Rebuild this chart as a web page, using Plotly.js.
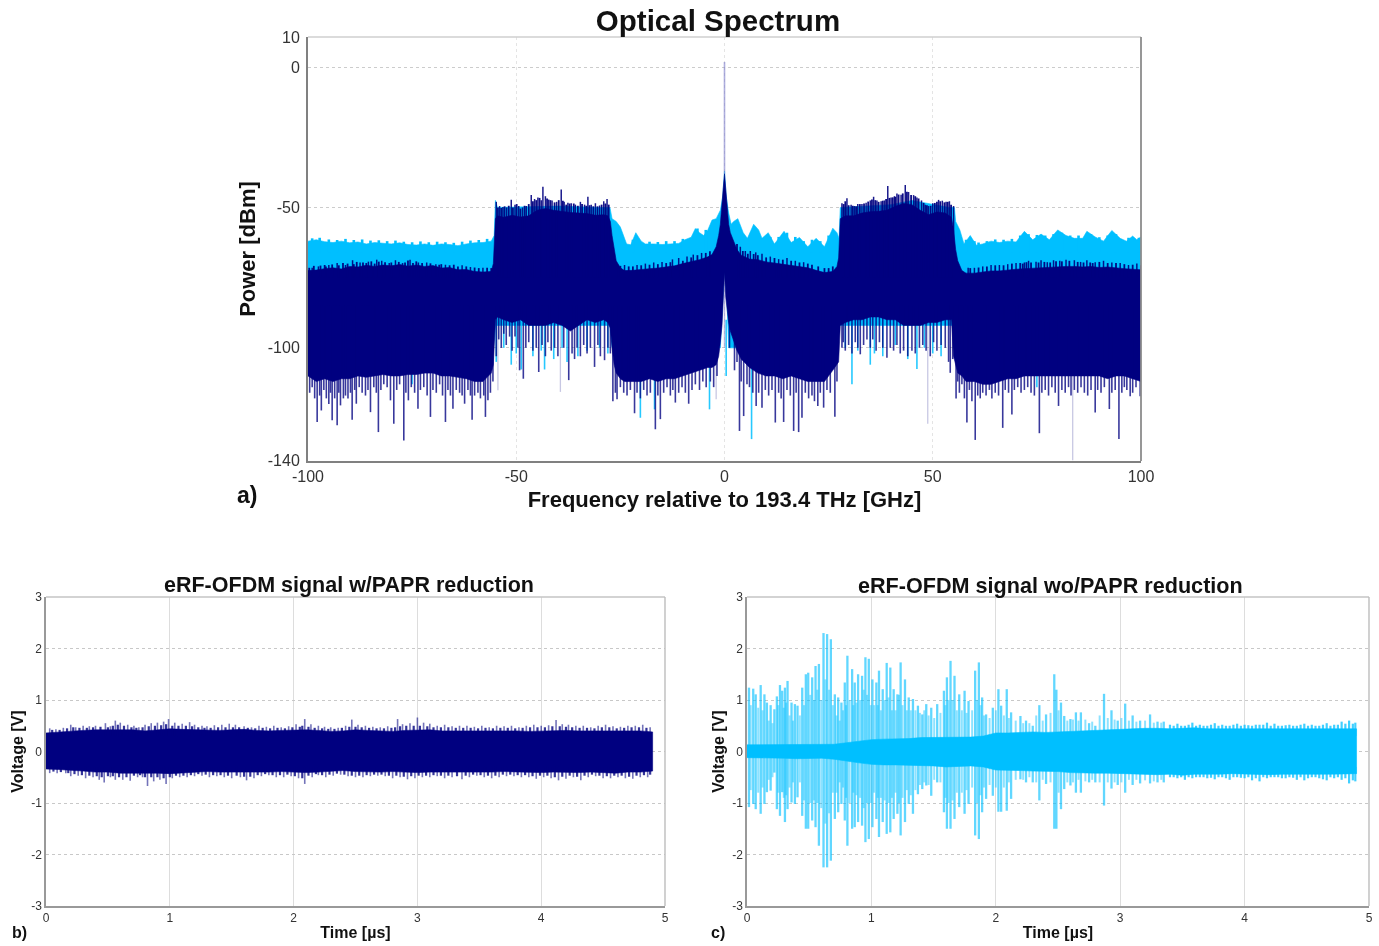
<!DOCTYPE html>
<html><head><meta charset="utf-8">
<script src="https://cdn.plot.ly/plotly-3.0.1.min.js"></script>
<style>html,body{margin:0;padding:0;background:#fff}#chart{width:1379px;height:946px;filter:blur(0.6px)}</style>
</head><body><div id="chart"></div>
<script>
// ---------- Optical spectrum: readings in GHz / dBm ----------
const specFreq=[-100,-98,-96,-94,-92,-90,-88,-86,-84,-82,
-80,-78,-76,-74,-72,-70,-68,-66,-64,-62,
-60,-58,-56,-55.5,-55,-54.5,-53,-51,-49,-47,
-45,-43,-41,-39,-37,-35,-33,-31,-29,-28,
-27.4,-27,-26.5,-26,-25,-24,-22,-20,-18,-16,
-14,-12,-10,-8,-6,-4,-3,-2,-1.4,-1,
-0.6,-0.3,0,0.3,0.6,1,1.4,2,3,4,
6,8,10,12,14,16,18,20,22,24,
26,27,27.4,27.8,29,31,33,35,37,39,
41,43,45,47,49,51,53,54.5,55,55.5,
56,57,58,60,62,64,66,68,70,72,
74,76,78,80,82,84,86,88,90,92,
94,96,98,100];
const navyTop=[-72.5,-72.3,-71.8,-71.5,-71.9,-71,-71.2,-70.6,-71,-70.5,
-70.8,-70.3,-70.9,-70.5,-71,-70.7,-71.6,-71.4,-72.2,-72.1,
-72.8,-73,-72.8,-70,-54,-53,-53.5,-52.8,-53.4,-53,
-51,-50.4,-51,-51.5,-51.8,-52,-52.2,-52.8,-52.6,-53,
-55,-60,-65,-69,-71.5,-72.5,-72.4,-72,-71.8,-71.6,
-71.2,-70.8,-70,-69.3,-68.6,-67.6,-66.8,-64,-60,-56,
-50,-43,-38,-43,-51,-56,-59,-61.5,-65,-67,
-68.4,-68.6,-69.4,-69.8,-70.2,-70.6,-71,-71.5,-72.4,-73.2,
-72.8,-71,-68,-54,-53,-53,-52,-51.5,-51.4,-51,
-49.6,-48.6,-49,-51,-52.6,-51.6,-52,-53.5,-58,-65,
-69,-72.5,-73.4,-73.4,-73,-72.6,-72.6,-72.2,-72,-71.8,
-71.6,-71.4,-71.4,-71,-71,-71,-71.2,-71,-71.4,-71.2,
-71.6,-71.8,-72,-72.2];
const navyBottom=[-110,-112,-111,-112,-111,-111,-110,-110.5,-110,-109.5,
-110,-110,-109.5,-109.5,-109,-109,-110,-110,-110.5,-111,
-112,-112,-109,-106,-90,-89,-90,-91,-90,-92,
-92,-92,-91,-92,-94,-92,-90,-91,-90,-91,
-93,-100,-106,-109,-111,-112,-112,-112,-111,-112,
-111,-111,-110,-109,-108,-107,-107,-106,-103,-98,
-92,-84,-73,-82,-86,-91,-94,-97,-101,-104,
-107,-109,-110,-110,-111,-110,-111,-112,-112,-112,
-108,-106,-105,-92,-91,-90,-90,-89,-89,-90,
-90,-92,-92,-92,-91,-91,-90,-90,-103,-106,
-109,-110,-112,-112,-113,-113,-112,-111,-111,-110,
-110,-110,-110,-110,-110,-110,-110,-110,-110,-111,
-110,-110,-111,-112];
const cyanTopCurve=[[-100,-62],[-98,-61.5],[-96,-62.2],[-94,-62.5],[-92,-62],[-90,-62.6],[-88,-62.3],[-86,-63],[-84,-62.5],[-82,-62.8],[-80,-63],[-78,-62.6],[-76,-63.2],[-74,-63.4],[-72,-63],[-70,-63.5],[-68,-63],[-66,-63.2],[-64,-63.6],[-62,-63],[-60,-62.6],[-58,-62.5],[-56,-62],[-55.3,-60],[-55,-47.5],[-54.5,-50],[-40,-49.5],[-30,-50],[-27.5,-50],
[-27,-54],[-26,-55],[-25,-57],[-24.3,-60],[-23.5,-63],[-22.5,-63.3],[-21.3,-59],[-20,-62],[-19,-63],[-17,-63],[-15,-63.2],[-13,-63],[-11,-62.8],[-9.5,-61.5],[-8,-60.6],[-7,-57.5],[-6,-59],[-5,-60],[-4,-58],[-3,-54.5],[-2,-54],[-1,-51],[-0.4,-46],[0,-37],[0.4,-46],[1,-52],[1.6,-56],[2.2,-55],[3.2,-54],[4.5,-59],[5.5,-61],[7,-56],[8.2,-58],[9,-61],[10.5,-59],[12,-63],[14.3,-58.5],[16,-62.5],[18,-60.7],[20,-64],[22,-61],[24,-64],[26,-57.4],[27,-59],[27.5,-61],
[27.8,-50],[40,-49],[45,-47.5],[54,-50],[55.2,-50],[55.5,-55],[56.5,-58],[57.5,-63],[59,-60],[60.5,-63.5],[62,-63],[64,-62],[66,-62.5],[68,-62],[70,-62.3],[72,-58.5],[74,-61.5],[76,-59.5],[78,-61.5],[80,-58],[82,-60],[84,-61],[86,-61],[87,-58.5],[89,-60.5],[91,-62],[93,-58.2],[95,-61],[96.5,-62],[98,-60.2],[99,-61.5],[100,-60.5]];
const cyanLowCurve=[[-100,-100],[-55.5,-100],[-55,-92],[-27.5,-92],[-27,-100],[-1,-100],[-0.6,-88],[-0.3,-80],[0,-72],[0.3,-78],[0.6,-84],[1,-100],[27,-100],[27.5,-92],[55,-92],[55.5,-100],[100,-100]];
const cyanPeaks=[[-99,-61],[-97.2,-60.8],[-95,-61.4],[-93,-61.6],[-91,-61.2],[-89,-61.6],[-87,-61.4],[-85,-61.8],[-83,-61.7],[-81,-62],[-79,-61.8],[-77,-62.2],[-75,-62.4],[-73,-62.1],[-71,-62.4],[-69,-62.2],[-67,-62.4],[-65,-62.6],[-63,-62.2],[-61,-61.8],[-59,-61.6],[-57,-61.2],
[-22,-61.5],[-18,-62.2],[-16,-62.3],[-14,-62],[-12,-62],[-10,-61.2],[-6.5,-57.5],[-4.5,-58],[11,-60.5],[13,-60.5],[15,-59],[17,-60.5],[19,-62],[21,-61.5],[23,-62],[25,-60],
[58,-61.5],[60,-62],[61,-62.5],[63,-62],[65,-61.4],[67,-61.5],[69,-61.2],[71,-60],[73,-59.5],[75,-59.8],[77,-60],[79,-59.5],[81,-59],[83,-60],[85,-60],[88,-59.5],[90,-60.6],[92,-60],[94,-59.5],[97,-60.8],[99.5,-60.8]];
const cyanDips=[[-54.8,-105],[-53,-100],[-51.2,-106],[-50,-102],[-48.8,-107.7],[-46,-103],[-44,-101],[-43.2,-107.7],[-41,-104],[-39,-100],[-37.8,-105],[-35.2,-103],[-33,-101],[-30,-100],[-28,-102],[-75,-113],[-20.2,-124.9],[-16.8,-121.9],[-3.6,-121.9],[0.4,-110],[6.5,-132.5],[29,-100],[30.6,-113],[32,-101],[35,-106],[36,-102],[38,-103],[41,-99],[44,-104],[46.2,-107.5],[48,-100],[50,-102],[52,-103],[75,-114]];
const navyPeaks=[[-99,-71.5],[-97.5,-71],[-95,-70.5],[-93,-69.8],[-91,-70.5],[-89.3,-68.8],[-87.5,-69.6],[-85.5,-69.3],[-83.5,-68.6],[-82.3,-69],[-80.5,-69.8],[-79,-68.8],[-77.3,-69.8],[-75.5,-68.6],[-73.5,-69.6],[-71.5,-69.6],[-69.3,-70.2],[-67,-70.4],[-63,-70.6],[-61,-71.2],[-58,-71.5],
[-54.8,-48],[-54,-49.5],[-53.2,-49.8],[-52.3,-50],[-51.2,-47.3],[-50.3,-49],[-49.4,-49.5],[-48.5,-50],[-47.6,-49.5],[-46.4,-45.6],[-45.6,-47],[-44.8,-46.5],[-44,-47.4],[-43.6,-42.6],[-43,-46],[-42.2,-47.2],[-41.4,-47.5],[-40.3,-48],[-39.2,-43.6],[-38.5,-48],[-37.6,-48.3],[-36.8,-48.5],[-35.8,-49],[-34.6,-48],[-33.6,-49],[-32.8,-46.2],[-32,-49],[-31,-48.5],[-30,-49.3],[-29,-47.8],[-28.2,-47],
[-24,-70.5],[-21,-70.5],[-19,-70],[-17,-69.6],[-15,-69.4],[-12.5,-68.5],[-11,-68],[-9,-67.5],[-7.5,-66.8],[-5.5,-66.2],[3.8,-64],[5,-65.5],[6.2,-65.5],[7.5,-66],[9,-66.5],[11,-67.5],[13,-68.4],[15,-68],[17,-69],[19,-69.5],
[28.2,-48.5],[29.4,-46.7],[30.4,-49],[31.2,-49.5],[32,-48.8],[33,-48.8],[34,-48.3],[35,-47.5],[35.8,-46.2],[36.6,-47.5],[37.6,-47.8],[38.4,-47.5],[39.2,-42.4],[40,-46.5],[40.8,-46],[41.4,-45],[42.4,-45.5],[43.4,-42],[44.2,-44.5],[45.4,-45.6],[46.2,-46.5],[47.3,-47.5],[48.2,-49],[49,-49.5],[50,-48.5],[51.4,-47.3],[52.3,-47.6],[53.2,-48],[54,-47.8],[55,-49.5],
[58.5,-71.5],[60,-71.5],[62,-71],[64,-70.5],[66,-70.5],[68,-70.2],[70,-69.8],[72,-69.6],[73,-69],[74.8,-69.3],[76,-68.8],[77.5,-69.5],[79,-68.8],[80.5,-69],[82,-68.6],[84,-68.8],[85.5,-69.4],[87,-68.8],[89,-69.5],[91,-69],[93,-69.6],[95,-69.8],[97,-70.5],[99,-70]];
const navyPeaksFine=[[-99.7,-71.5],[-98.6,-70.8],[-97,-70.7],[-96,-70.5],[-95.7,-71],[-94.2,-70.3],[-92.6,-70.6],[-91.6,-69.8],[-90.5,-70],[-89,-70.2],[-88.3,-69.4],[-86.8,-69.6],[-86,-69.8],[-84.8,-69.2],[-84,-70],[-83,-69.3],[-81.5,-69.5],[-80,-69.6],[-78.2,-69.4],[-76.7,-69.6],[-76,-68.9],[-74.8,-69.8],[-74,-69.2],[-72.6,-69.8],[-70.6,-69.9],[-68.5,-70.4],[-68,-70.2],[-66,-70.6],[-65,-70.4],[-64,-71],[-62,-71],[-60,-71.4],[-59,-71.6],[-57,-71.5],[-56,-71.6],
[-26,-71],[-25,-70.8],[-23,-71],[-22,-71],[-20,-70.6],[-18,-70.4],[-16,-70.2],[-14,-69.8],[-13,-69.5],[-10,-69],[-8,-67.8],[-6.5,-67],[-4.5,-66.2],[-3.5,-65.6],[3,-63],[4.4,-65.5],[5.6,-66.5],[7,-66.6],[8,-67],[10,-67.8],[12,-68],[14,-68.6],[16,-69],[18,-69.6],[20,-70],[21,-70.4],[22.5,-71],[24,-71.6],[25,-71.6],[26,-71],
[-54.4,-50],[-53.6,-50.2],[-52.8,-49.6],[-51.8,-49.4],[-50.8,-50],[-49.9,-48.8],[-49,-50.4],[-48,-49.4],[-47,-48.8],[-46,-47.8],[-45.2,-47.4],[-44.4,-46.6],[-42.6,-46.8],[-41.8,-47.4],[-40.8,-48.2],[-39.8,-47.4],[-38.8,-47.6],[-38,-49],[-37.2,-48.6],[-36.2,-48.6],[-35.2,-49.4],[-34.2,-48.8],[-33.2,-49.4],[-32.4,-49.2],[-31.5,-49.6],[-30.5,-49.6],[-29.5,-49],[-28.6,-48.6],[-27.8,-49],
[28.6,-48.8],[29,-47.8],[29.8,-49.2],[30.8,-49.4],[31.6,-49.6],[32.5,-48.8],[33.5,-48.6],[34.5,-47.9],[35.4,-47.2],[36.2,-47.4],[37,-48],[38,-47.6],[38.8,-47],[39.6,-46.6],[40.4,-46.4],[41,-46.2],[41.8,-45.4],[42.8,-45],[43.8,-44.4],[44.8,-45.6],[45.8,-46],[46.6,-46.8],[47.8,-48.4],[48.6,-49.2],[49.5,-49.4],[50.5,-48.4],[51,-48],[51.8,-47.8],[52.8,-48.2],[53.6,-48],[54.4,-49],
[59,-71.6],[61,-71.4],[63,-71],[65,-70.6],[67,-70.6],[69,-70],[71,-69.8],[71.6,-70],[72.5,-69.5],[73.6,-69.6],[75.4,-69.6],[76.8,-69.4],[78.2,-69.6],[79.6,-69.2],[81,-69.2],[82.8,-69],[84.8,-69.4],[86.2,-69.6],[87.8,-69.6],[88.4,-69.8],[90,-69.4],[92,-69.8],[94,-69.8],[96,-70.2],[98,-70.4],[100,-70.6]];
const navyDips=[[-99.6,-116],[-99,-114],[-98.4,-118],[-97.8,-126.4],[-97.2,-117],[-96.8,-122.3],[-96.2,-115],[-95.6,-118],[-95,-120],[-94.6,-116],[-94.2,-125.8],[-93.6,-118],[-93,-127.6],[-92.6,-116],[-92.2,-120.5],[-91.5,-118],[-91,-117],[-90.4,-118],[-89.8,-116],[-89.4,-125.6],[-88.8,-115],[-88.4,-119.9],[-87.7,-114],[-87,-116],[-86.2,-117],[-85.6,-115],[-85,-122.9],[-84.2,-114],[-83.6,-116],[-83.1,-130],[-82.5,-115],[-81.8,-113],[-81,-114],[-80.2,-118.7],[-79.4,-127],[-78.7,-115],[-78,-113],[-77,-133],[-76.5,-116],[-75.9,-118.7],[-75.2,-114],[-74.4,-116],[-73.6,-121.7],[-73,-115],[-72.2,-114],[-71.4,-117],[-70.6,-124.6],[-70,-115],[-69.2,-116],[-68.4,-113],[-67.7,-117],[-67,-126.4],[-66.4,-115],[-65.8,-117],[-65.2,-121.7],[-64.4,-115],[-63.6,-116],[-63,-117],[-62.4,-119.9],[-61.6,-115],[-61,-117],[-60.6,-125.6],[-60,-117],[-59.2,-116],[-58.6,-118],[-57.8,-117],[-57.4,-124.6],[-56.8,-118.7],[-56.2,-116],[-55.6,-112],
[-54.8,-103],[-54.2,-97],[-53.6,-100],[-53,-95],[-52.4,-99],[-51.6,-96],[-51,-101],[-50.3,-96],[-49.6,-100],[-49.2,-108],[-48.3,-111],[-47.7,-100],[-47,-98],[-46,-101],[-45.2,-100],[-44.6,-108.6],[-43.8,-99],[-43,-103],[-42.4,-98],[-41.6,-101],[-40.8,-100],[-40,-103],[-38.6,-100],[-37.4,-111.5],[-36.6,-102],[-36,-104],[-35.4,-100],[-34.6,-103],[-33.8,-99],[-33,-102],[-32.2,-100],[-31.2,-106.8],[-30.4,-99],[-29.8,-103],[-28.8,-104.4],[-28,-100],[-27.4,-102],
[-26.8,-119],[-26.2,-116],[-25.8,-118.3],[-25,-114],[-24.2,-116],[-23.4,-117],[-22.6,-115],[-21.6,-123.3],[-21,-116],[-20.2,-118],[-19.4,-115],[-18.6,-117],[-17.8,-116],[-16.6,-129],[-16,-117],[-15.4,-125.4],[-14.6,-116],[-13.8,-114],[-13,-117],[-12.4,-115],[-11.8,-119.5],[-11,-116],[-10.2,-114],[-9.4,-116],[-8.6,-119.9],[-7.8,-115],[-7,-113],[-6,-115],[-5.2,-112],[-4.4,-114],[-3.4,-112],[-2.6,-114],[-1.8,-110],
[1.2,-100],[2.4,-108],[3,-105],[3.6,-129.6],[4,-112],[4.6,-124.3],[5.4,-113],[6,-114],[6.8,-116],[7.6,-120.7],[8.2,-116],[9,-121.3],[9.8,-115],[10.6,-117],[11.4,-115],[12.2,-126.6],[13,-116],[13.6,-118],[14.2,-126.4],[15,-115],[15.8,-117],[16.6,-129.6],[17.2,-116],[17.8,-130],[18.6,-124.9],[19.4,-116],[20.2,-118],[21,-117],[21.6,-119],[22.4,-120.7],[23,-116],[23.8,-121.3],[24.6,-115],[25.4,-116],[26.5,-124.5],[27,-112],
[28.2,-100],[28.5,-98],[29,-101],[29.8,-99],[30.6,-102],[31.4,-98],[32,-100],[32.6,-102.3],[33.4,-99],[34.2,-97],[35,-100],[35.6,-97],[36.4,-101],[37.2,-98],[38,-100],[39,-103.5],[39.8,-100],[40.6,-101],[41.4,-99],[42.2,-102],[43,-101],[44,-103],[45,-101],[45.8,-102],[46.8,-100],[47.6,-99],[48.4,-101],[49.4,-103],[50.2,-98],[51,-101],[52,-99],[53,-100],[53.8,-105],[54.2,-108.9],[54.8,-104],
[55.6,-118],[56,-112],[56.4,-116],[57,-113],[57.6,-118],[58.2,-126.6],[58.8,-115],[59.4,-119],[60.2,-132.8],[60.8,-117],[61.4,-118],[62,-116],[62.8,-117],[63.6,-115],[64.2,-118],[65,-116],[65.8,-117],[66.8,-128.5],[67.4,-115],[68.2,-116],[69,-123.7],[69.6,-115],[70.4,-114],[71.2,-116],[72,-115],[72.8,-114],[73.6,-116],[74.4,-117],[75.6,-130.4],[76.2,-116],[77,-115],[77.8,-117],[78.6,-114],[79.4,-116],[80.2,-120.7],[81,-115],[81.8,-116],[82.6,-114],[83.2,-117],[84,-115],[84.8,-116],[85.6,-114],[86.4,-116],[87.2,-117],[88,-115],[89,-123],[89.6,-115],[90.4,-116],[91.2,-114],[92.4,-121.8],[93,-116],[93.8,-115],[94.7,-132.5],[95.4,-116],[96,-114],[96.6,-115],[97.4,-117.2],[98,-116],[98.8,-114],[99.8,-117.2]];
const faintDips=[[-54.4,-115.1],[-39.4,-115.7],[-2,-118.3],[48.8,-127],[83.6,-140]];
const carrierFreq=[0,0], carrierPower=[-38,1.8];
const carrierLowFreq=[0,0], carrierLowPower=[-73,-100];

// ---------- Panel b: time in microseconds, voltage in volts ----------
const bTime=[0,0.1,0.2,0.3,0.4,0.5,0.6,0.7,0.8,0.9,1,1.1,1.2,1.3,1.4,1.5,1.6,1.7,1.8,1.9,2,2.1,2.2,2.3,2.4,2.5,2.6,2.7,2.8,2.9,3,3.1,3.2,3.3,3.4,3.5,3.6,3.7,3.8,3.9,4,4.1,4.2,4.3,4.4,4.5,4.6,4.7,4.8,4.9];
const bUpper=[.36,.38,.4,.41,.42,.42,.43,.42,.4,.42,.44,.43,.42,.41,.41,.42,.43,.41,.4,.41,.42,.42,.41,.39,.4,.42,.41,.4,.39,.41,.42,.42,.4,.4,.41,.4,.4,.41,.4,.39,.4,.41,.41,.4,.4,.41,.4,.41,.4,.38];
const bLower=[-.34,-.35,-.36,-.38,-.4,-.4,-.42,-.41,-.42,-.42,-.43,-.42,-.4,-.39,-.4,-.41,-.4,-.4,-.4,-.39,-.4,-.41,-.4,-.39,-.37,-.39,-.4,-.4,-.39,-.4,-.41,-.4,-.4,-.39,-.4,-.4,-.4,-.39,-.4,-.4,-.41,-.4,-.4,-.41,-.4,-.41,-.42,-.4,-.4,-.38];
const bPeaks=[[.03,.45],[.08,.43],[.14,.46],[.2,.52],[.24,.47],[.3,.5],[.35,.49],[.4,.5],[.48,.55],[.52,.49],[.56,.6],[.6,.56],[.66,.52],[.71,.5],[.75,.47],[.8,.52],[.85,.55],[.9,.56],[.95,.58],[.99,.63],[1.04,.56],[1.1,.54],[1.16,.57],[1.2,.52],[1.26,.5],[1.3,.49],[1.36,.51],[1.42,.52],[1.48,.54],[1.53,.52],[1.6,.49],[1.66,.47],[1.72,.5],[1.78,.48],[1.84,.5],[1.9,.47],[1.96,.49],[2.02,.53],[2.09,.63],[2.14,.53],[2.2,.5],[2.25,.48],[2.3,.47],[2.36,.46],[2.42,.5],[2.47,.62],[2.52,.52],[2.58,.5],[2.64,.48],[2.7,.47],[2.76,.49],[2.84,.63],[2.88,.53],[2.94,.55],[3,.66],[3.05,.56],[3.1,.54],[3.16,.5],[3.22,.52],[3.28,.49],[3.34,.5],[3.4,.5],[3.46,.48],[3.52,.5],[3.58,.47],[3.64,.5],[3.7,.49],[3.76,.5],[3.82,.47],[3.88,.5],[3.94,.52],[4,.5],[4.06,.51],[4.12,.61],[4.17,.53],[4.22,.52],[4.28,.5],[4.34,.5],[4.4,.47],[4.46,.5],[4.52,.52],[4.58,.49],[4.64,.48],[4.7,.5],[4.76,.5],[4.82,.52],[4.88,.47]];
const bPeaksFine=[[.05,.42],[.11,.42],[.17,.45],[.22,.47],[.27,.46],[.33,.46],[.38,.47],[.44,.48],[.5,.47],[.54,.5],[.58,.52],[.63,.5],[.69,.47],[.73,.46],[.78,.47],[.83,.49],[.88,.5],[.93,.51],[.97,.53],[1.02,.5],[1.07,.5],[1.13,.5],[1.18,.49],[1.23,.47],[1.28,.46],[1.33,.46],[1.39,.47],[1.45,.47],[1.51,.47],[1.56,.47],[1.63,.46],[1.69,.45],[1.75,.46],[1.81,.45],[1.87,.46],[1.93,.45],[1.99,.47],[2.05,.48],[2.07,.5],[2.12,.48],[2.17,.46],[2.23,.45],[2.28,.44],[2.33,.44],[2.39,.46],[2.45,.48],[2.5,.48],[2.55,.47],[2.61,.46],[2.67,.45],[2.73,.45],[2.79,.46],[2.82,.47],[2.86,.49],[2.91,.5],[2.97,.5],[3.02,.5],[3.08,.49],[3.13,.47],[3.19,.47],[3.25,.47],[3.31,.46],[3.37,.46],[3.43,.46],[3.49,.45],[3.55,.46],[3.61,.45],[3.67,.46],[3.73,.46],[3.79,.45],[3.85,.46],[3.91,.47],[3.97,.47],[4.03,.47],[4.09,.49],[4.15,.49],[4.2,.48],[4.25,.47],[4.31,.46],[4.37,.46],[4.43,.45],[4.49,.47],[4.55,.47],[4.61,.45],[4.67,.46],[4.73,.47],[4.79,.47],[4.85,.46]];
const bDips=[[.03,-.42],[.09,-.42],[.16,-.42],[.2,-.48],[.26,-.47],[.32,-.52],[.38,-.5],[.43,-.55],[.47,-.6],[.52,-.5],[.56,-.55],[.62,-.55],[.68,-.57],[.74,-.5],[.78,-.5],[.82,-.67],[.87,-.58],[.92,-.55],[.97,-.63],[1.02,-.52],[1.08,-.5],[1.14,-.5],[1.2,-.48],[1.26,-.47],[1.32,-.5],[1.38,-.48],[1.44,-.5],[1.5,-.52],[1.57,-.5],[1.62,-.56],[1.68,-.52],[1.74,-.48],[1.8,-.46],[1.86,-.5],[1.92,-.5],[1.98,-.48],[2.04,-.52],[2.09,-.63],[2.15,-.5],[2.2,-.46],[2.26,-.5],[2.32,-.47],[2.38,-.45],[2.44,-.48],[2.5,-.5],[2.56,-.5],[2.62,-.48],[2.68,-.47],[2.74,-.48],[2.8,-.52],[2.86,-.5],[2.92,-.54],[2.98,-.52],[3.04,-.5],[3.1,-.5],[3.16,-.48],[3.22,-.52],[3.28,-.5],[3.36,-.54],[3.42,-.5],[3.48,-.47],[3.54,-.5],[3.6,-.52],[3.66,-.5],[3.72,-.48],[3.78,-.48],[3.84,-.5],[3.9,-.5],[3.96,-.53],[4.02,-.5],[4.08,-.52],[4.14,-.56],[4.2,-.53],[4.26,-.5],[4.32,-.56],[4.38,-.5],[4.44,-.48],[4.5,-.52],[4.56,-.52],[4.62,-.5],[4.68,-.52],[4.74,-.53],[4.8,-.5],[4.86,-.5]];
const bDipsFine=[[.06,-.39],[.12,-.4],[.18,-.42],[.23,-.44],[.29,-.46],[.35,-.47],[.41,-.48],[.45,-.5],[.5,-.48],[.54,-.48],[.59,-.5],[.65,-.5],[.71,-.47],[.76,-.46],[.8,-.5],[.85,-.5],[.9,-.5],[.95,-.52],[1,-.5],[1.05,-.47],[1.11,-.47],[1.17,-.46],[1.23,-.44],[1.29,-.45],[1.35,-.46],[1.41,-.46],[1.47,-.47],[1.54,-.47],[1.6,-.49],[1.65,-.49],[1.71,-.46],[1.77,-.44],[1.83,-.46],[1.89,-.46],[1.95,-.45],[2.01,-.48],[2.07,-.52],[2.12,-.47],[2.18,-.44],[2.23,-.46],[2.29,-.45],[2.35,-.43],[2.41,-.45],[2.47,-.47],[2.53,-.47],[2.59,-.46],[2.65,-.45],[2.71,-.45],[2.77,-.47],[2.83,-.47],[2.89,-.49],[2.95,-.48],[3.01,-.47],[3.07,-.47],[3.13,-.46],[3.19,-.47],[3.25,-.47],[3.32,-.48],[3.39,-.47],[3.45,-.45],[3.51,-.46],[3.57,-.47],[3.63,-.47],[3.69,-.45],[3.75,-.45],[3.81,-.46],[3.87,-.46],[3.93,-.48],[3.99,-.47],[4.05,-.47],[4.11,-.5],[4.17,-.49],[4.23,-.47],[4.29,-.49],[4.35,-.47],[4.41,-.45],[4.47,-.47],[4.53,-.48],[4.59,-.47],[4.65,-.47],[4.71,-.49],[4.77,-.47],[4.83,-.46],[4.88,-.45]];

// ---------- Panel c ----------
const cUpper=[.13,.13,.14,.13,.13,.13,.13,.14,.17,.2,.23,.24,.24,.25,.27,.27,.28,.27,.28,.3,.36,.36,.37,.38,.37,.38,.4,.4,.42,.42,.43,.44,.45,.45,.44,.45,.46,.44,.44,.45,.44,.45,.44,.44,.45,.44,.44,.45,.44,.44];
const cLower=[-.12,-.13,-.13,-.13,-.14,-.14,-.13,-.15,-.18,-.22,-.25,-.26,-.26,-.27,-.27,-.28,-.3,-.29,-.28,-.3,-.36,-.36,-.37,-.38,-.39,-.39,-.41,-.42,-.42,-.42,-.43,-.43,-.44,-.45,-.44,-.46,-.44,-.44,-.44,-.43,-.44,-.44,-.45,-.44,-.43,-.44,-.44,-.44,-.44,-.43];
const cBursts=[[.016,1.24,-1.08],[.05,1.22,-1.02],[.07,1.11,-1.12],[.11,1.29,-1.21],[.14,1.11,-1.02],[.16,.95,-.79],[.19,.9,-.76],[.22,.82,-.41],[.24,1.07,-1.12],[.265,1.29,-1.25],[.283,1.18,-.79],[.305,1.24,-1.37],[.326,1.37,-1.12],[.358,.95,-.99],[.385,.92,-1.02],[.406,.89,-.89],[.444,1.24,-1.25],[.473,1.5,-1.5],[.492,1.53,-1.5],[.524,1.44,-1.34],[.551,1.66,-1.47],[.578,1.7,-1.83],[.615,2.3,-2.25],[.644,2.28,-2.25],[.674,2.18,-2.12],[.706,1.11,-1.31],[.733,1.05,-1.18],[.759,.95,-1.02],[.786,1.34,-1.34],[.807,1.86,-1.83],[.845,1.6,-1.5],[.866,1.34,-1.47],[.893,1.5,-1.37],[.925,1.47,-1.44],[.952,1.83,-1.76],[.979,1.8,-1.7],[1.008,1.4,-1.47],[1.04,1.34,-1.31],[1.061,1.57,-1.66],[1.091,1.21,-1.37],[1.123,1.72,-1.6],[1.152,1.63,-1.57],[1.179,1.21,-1.31],[1.209,1.11,-1.21],[1.235,1.73,-1.63],[1.27,1.4,-1.37],[1.3,1.05,-1.02],[1.334,1.02,-1.21],[1.374,.89,-.83],[1.409,.72,-.73],[1.441,.92,-.66],[1.481,.85,-.86],[1.529,.92,-.6],[1.583,1.18,-1.18],[1.607,1.44,-1.5],[1.636,1.76,-1.5],[1.668,1.47,-1.31],[1.706,1.11,-1.08],[1.749,1.18,-1.21],[1.781,.98,-1.02],[1.834,1.57,-1.63],[1.864,1.73,-1.7],[1.89,1.05,-1.18],[1.922,.72,-.92],[1.976,.85,-.86],[2.021,1.21,-1.17],[2.043,.89,-1.17],[2.088,1.21,-1.15],[2.123,.76,-.92],[2.198,.69,-.54],[2.243,.6,-.6],[2.297,.5,-.6],[2.35,.9,-.95],[2.404,.72,-.63],[2.47,1.5,-1.5],[2.487,1.2,-1.5],[2.524,.95,-1.12],[2.55,.69,-.73],[2.6,.63,-.66],[2.644,.76,-.8],[2.684,.76,-.8],[2.75,.55,-.6],[2.8,.5,-.6],[2.87,1.12,-1.05],[2.93,.8,-.72],[2.98,.6,-.65],[3.04,.93,-.8],[3.1,.7,-.65],[3.16,.6,-.62],[3.24,.72,-.62],[3.3,.58,-.6],[3.35,.58,-.6]];
const cBurstsShort=[[.03,.9,-.75],[.09,.85,-.8],[.125,.8,-.7],[.175,.6,-.55],[.205,.55,-.5],[.252,.9,-.8],[.295,.85,-.9],[.315,.95,-.85],[.342,.7,-.7],[.37,.6,-.6],[.425,.7,-.6],[.458,.9,-.95],[.508,1.1,-1],[.538,1,-.95],[.565,1.2,-1],[.597,1,-1.1],[.63,1.4,-1.4],[.66,1.2,-1.2],[.69,.9,-.8],[.72,.7,-.8],[.745,.6,-.6],[.772,.8,-.7],[.797,.9,-.9],[.825,1,-1],[.855,.9,-.8],[.88,.95,-.85],[.91,1,-.9],[.938,1.2,-1.1],[.965,1.1,-1],[.994,.9,-1],[1.022,.9,-.8],[1.05,.9,-.9],[1.076,.8,-.9],[1.107,1,-.95],[1.138,1.05,-1],[1.165,.8,-.9],[1.194,.8,-.8],[1.222,1.1,-1],[1.25,.9,-.9],[1.285,.8,-.75],[1.317,.8,-.85],[1.354,.8,-.75],[1.39,.75,-.65],[1.425,.8,-.6],[1.46,.7,-.65],[1.505,.65,-.55],[1.555,.75,-.6],[1.595,.9,-.9],[1.62,1,-1],[1.652,1,-.95],[1.687,.8,-.8],[1.727,.8,-.8],[1.765,.75,-.75],[1.81,.8,-.7],[1.85,1,-1],[1.877,.9,-.85],[1.905,.7,-.7],[1.95,.65,-.65],[2,.8,-.7],[2.065,.7,-.7],[2.105,.65,-.6],[2.16,.6,-.55],[2.22,.55,-.55],[2.27,.55,-.5],[2.325,.7,-.6],[2.377,.6,-.55],[2.44,.75,-.6],[2.505,.8,-.8],[2.575,.6,-.6],[2.62,.62,-.6],[2.665,.6,-.55],[2.72,.62,-.58],[2.775,.58,-.55],[2.835,.7,-.6],[2.9,.65,-.6],[2.955,.62,-.6],[3.01,.65,-.6],[3.07,.6,-.55],[3.13,.58,-.55],[3.2,.6,-.56],[3.27,.56,-.58],[3.33,.56,-.55]];
const cFringe=[[3.4,.52,-.5],[3.43,.5,-.5],[3.46,.54,-.52],[3.49,.5,-.5],[3.52,.5,-.55],[3.55,.52,-.5],[3.58,.56,-.52],[3.61,.5,-.5],[3.64,.52,-.5],[3.67,.5,-.5],[3.7,.5,-.52],[3.73,.52,-.51],[3.76,.55,-.54],[3.79,.5,-.5],[3.82,.52,-.5],[3.85,.5,-.52],[3.88,.5,-.55],[3.91,.52,-.5],[3.94,.54,-.5],[3.97,.5,-.51],[4,.52,-.52],[4.03,.51,-.5],[4.06,.5,-.56],[4.09,.52,-.52],[4.12,.52,-.58],[4.15,.52,-.5],[4.18,.56,-.52],[4.21,.5,-.5],[4.24,.54,-.5],[4.27,.5,-.5],[4.3,.5,-.52],[4.33,.51,-.52],[4.36,.52,-.5],[4.39,.5,-.51],[4.42,.5,-.55],[4.45,.52,-.5],[4.48,.54,-.56],[4.51,.5,-.52],[4.54,.52,-.5],[4.57,.5,-.5],[4.6,.5,-.52],[4.63,.52,-.54],[4.66,.55,-.56],[4.69,.5,-.5],[4.72,.52,-.52],[4.75,.52,-.5],[4.78,.58,-.55],[4.81,.54,-.52],[4.84,.6,-.62],[4.87,.54,-.56],[4.89,.56,-.58]];

const xTicksSpec=[-100,-50,0,50,100], yTickLabels=['10','0','-50','-100','-140'], yTickSpots=[10.7,0,-50,-100,-140];
const xTicksTime=[0,1,2,3,4,5], yTicksVolt=[3,2,1,0,-1,-2,-3];

const NAVY='#000080', CYAN='#00BFFF';
const W=1379,H=946;
function band(x1,y1,x2,y2,color,xa,ya){
  return {x:x1.concat(x2.slice().reverse()),y:y1.concat(y2.slice().reverse()),mode:'lines',fill:'toself',fillcolor:color,line:{color:color,width:0.6},xaxis:xa,yaxis:ya,hoverinfo:'skip'};
}
function spikes(pairs,base,color,width,xa,ya,c){
  const x=[],y=[];
  pairs.forEach(p=>{x.push(p[0],p[0],null);y.push(base,p[c||1],null);});
  return {x:x,y:y,mode:'lines',line:{color:color,width:width},xaxis:xa,yaxis:ya,hoverinfo:'skip',connectgaps:false};
}
const col=(a,i)=>a.map(r=>r[i]);
const data=[
 band(col(cyanTopCurve,0),col(cyanTopCurve,1),col(cyanLowCurve,0),col(cyanLowCurve,1),CYAN,'x','y'),
 spikes(cyanPeaks,-66,CYAN,2.6,'x','y'),
 spikes(cyanDips,-90,'rgba(0,191,255,0.85)',1.6,'x','y'),
 {x:carrierFreq,y:carrierPower,mode:'lines',line:{color:'rgba(120,120,200,0.6)',width:1.6},xaxis:'x',yaxis:'y',hoverinfo:'skip'},
 {x:carrierLowFreq,y:carrierLowPower,mode:'lines',line:{color:'rgba(120,120,200,0.5)',width:1.4},xaxis:'x',yaxis:'y',hoverinfo:'skip'},
 spikes(faintDips,-85,'rgba(0,0,128,0.22)',1.3,'x','y'),
 band(specFreq,navyTop,specFreq,navyBottom,NAVY,'x','y'),
 spikes(navyPeaksFine,-75,'rgba(0,0,128,0.95)',1.8,'x','y'),
 spikes(navyPeaks,-75,'rgba(0,0,128,0.9)',1.5,'x','y'),
 spikes(navyDips,-85,'rgba(0,0,128,0.78)',1.6,'x','y'),
 band(bTime,bUpper,bTime,bLower,NAVY,'x2','y2'),
 spikes(bPeaksFine,.3,'rgba(0,0,128,0.8)',2.2,'x2','y2'),
 spikes(bPeaks,.3,'rgba(0,0,128,0.55)',1.6,'x2','y2'),
 spikes(bDipsFine,-.3,'rgba(0,0,128,0.8)',2.2,'x2','y2'),
 spikes(bDips,-.3,'rgba(0,0,128,0.55)',1.6,'x2','y2'),
 spikes(cBurstsShort,.1,'rgba(0,191,255,0.45)',2,'x3','y3',1),
 spikes(cBurstsShort,-.1,'rgba(0,191,255,0.45)',2,'x3','y3',2),
 spikes(cBursts,.1,'rgba(0,191,255,0.62)',2.3,'x3','y3',1),
 spikes(cBursts,-.1,'rgba(0,191,255,0.62)',2.3,'x3','y3',2),
 spikes(cFringe,.3,'rgba(0,191,255,0.75)',2.2,'x3','y3',1),
 spikes(cFringe,-.3,'rgba(0,191,255,0.75)',2.2,'x3','y3',2),
 band(bTime,cUpper,bTime,cLower,CYAN,'x3','y3')
];
const tickFontBig={family:'Liberation Sans, Arial, sans-serif',size:16,color:'#333'};
const tickFontSm={family:'Liberation Sans, Arial, sans-serif',size:12,color:'#333'};
const titleFont=s=>({family:'Liberation Sans, Arial, sans-serif',size:s,color:'#111',weight:700});
function axis(extra){return Object.assign({showline:true,mirror:false,linecolor:'#808080',linewidth:2,zeroline:false,ticks:'',fixedrange:true,layer:'above traces'},extra);}
const dx=(a,b)=>[a/W,b/W], dy=(top,bot)=>[1-bot/H,1-top/H];
function frameEdge(x0,y0,x1,y1,color,w){return {type:'line',xref:'paper',yref:'paper',x0:x0/W,y0:1-y0/H,x1:x1/W,y1:1-y1/H,line:{color:color,width:w},layer:'above'};}
const layout={
 width:W,height:H,margin:{l:0,r:0,t:0,b:0},paper_bgcolor:'#fff',plot_bgcolor:'#fff',showlegend:false,
 title:{text:'Optical Spectrum',font:titleFont(29.5),x:718/W,xanchor:'center',y:1-21/H,yanchor:'middle'},
 xaxis:axis({domain:dx(308,1141),range:[-100,100],tickvals:xTicksSpec,ticktext:xTicksSpec.map(String),tickfont:tickFontBig,gridcolor:'#e4e4e4',griddash:'dot',gridwidth:1,anchor:'y',title:{text:'Frequency relative to 193.4 THz [GHz]',font:titleFont(22),standoff:7}}),
 yaxis:axis({domain:dy(37,461),range:[-140.3,10.7],tickvals:yTickSpots,ticktext:yTickLabels,tickfont:tickFontBig,ticklabelstandoff:3,gridcolor:'#cccccc',griddash:'dot',gridwidth:1,anchor:'x',title:{text:'Power [dBm]',font:titleFont(22),standoff:6}}),
 xaxis2:axis({domain:dx(46,665),range:[0,5],tickvals:xTicksTime,ticktext:xTicksTime.map(String),tickfont:tickFontSm,gridcolor:'#dddddd',anchor:'y2',linewidth:1.6,linecolor:'#999',title:{text:'Time [µs]',font:titleFont(16),standoff:3}}),
 yaxis2:axis({domain:dy(597,906),range:[-3,3],tickvals:yTicksVolt,ticktext:yTicksVolt.map(String),tickfont:tickFontSm,gridcolor:'#c8c8c8',griddash:'dot',anchor:'x2',linewidth:1.6,linecolor:'#999',title:{text:'Voltage [V]',font:titleFont(16),standoff:4}}),
 xaxis3:axis({domain:dx(747,1369),range:[0,5],tickvals:xTicksTime,ticktext:xTicksTime.map(String),tickfont:tickFontSm,gridcolor:'#dddddd',anchor:'y3',linewidth:1.6,linecolor:'#999',title:{text:'Time [µs]',font:titleFont(16),standoff:3}}),
 yaxis3:axis({domain:dy(597,906),range:[-3,3],tickvals:yTicksVolt,ticktext:yTicksVolt.map(String),tickfont:tickFontSm,gridcolor:'#c8c8c8',griddash:'dot',anchor:'x3',linewidth:1.6,linecolor:'#999',title:{text:'Voltage [V]',font:titleFont(16),standoff:4}}),
 shapes:[
  frameEdge(308,37,1141,37,'#cfcfcf',1.5),frameEdge(1141,37,1141,461,'#8c8c8c',1.8),
  frameEdge(46,597,665,597,'#c4c4c4',1.4),frameEdge(665,597,665,906,'#bdbdbd',1.4),
  frameEdge(747,597,1369,597,'#c4c4c4',1.4),frameEdge(1369,597,1369,906,'#bdbdbd',1.4)
 ],
 annotations:[
  {text:'<b>eRF-OFDM signal w/PAPR reduction</b>',xref:'paper',yref:'paper',x:349/W,y:1-585/H,xanchor:'center',yanchor:'middle',showarrow:false,font:titleFont(21.5)},
  {text:'<b>eRF-OFDM signal wo/PAPR reduction</b>',xref:'paper',yref:'paper',x:1050/W,y:1-585/H,xanchor:'center',yanchor:'middle',showarrow:false,font:titleFont(21.6)},
  {text:'<b>a)</b>',xref:'paper',yref:'paper',x:247/W,y:1-495/H,xanchor:'center',yanchor:'middle',showarrow:false,font:titleFont(23)},
  {text:'<b>b)</b>',xref:'paper',yref:'paper',x:19/W,y:1-932/H,xanchor:'center',yanchor:'middle',showarrow:false,font:titleFont(16)},
  {text:'<b>c)</b>',xref:'paper',yref:'paper',x:718/W,y:1-932/H,xanchor:'center',yanchor:'middle',showarrow:false,font:titleFont(16)}
 ]
};
Plotly.newPlot('chart',data,layout,{displayModeBar:false,staticPlot:true});
</script></body></html>
